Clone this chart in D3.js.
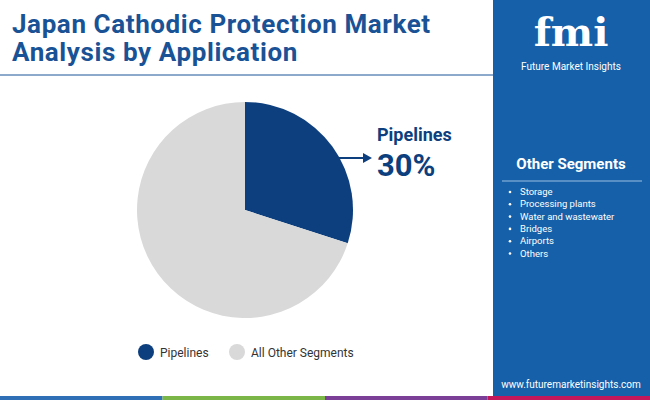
<!DOCTYPE html>
<html><head><meta charset="utf-8">
<script src="https://cdn.jsdelivr.net/npm/d3@7"></script>
<style>body{margin:0}svg{display:block;font-family:Roboto,sans-serif}</style>
</head><body>
<script>
// chart data
var segments = ["Pipelines", "All Other Segments"];
var shares = [30, 70];
var colors = ["#0d3f7e", "#d9d9d9"];
var otherSegments = ["Storage", "Processing plants", "Water and wastewater", "Bridges", "Airports", "Others"];
var footerColors = ["#2f6fb5", "#7ab648", "#7b3f98", "#c2185b"];

var width = 650, height = 400;
var svg = d3.select("body").append("svg").attr("width", width).attr("height", height);
svg.append("rect").attr("width", width).attr("height", height).attr("fill", "#fff");

// title
svg.append("text").attr("x", 12).attr("y", 33).attr("fill", "#1a5296")
  .style("font-size", "26px").style("font-weight", "bold").style("letter-spacing", "0.6px").text("Japan Cathodic Protection Market");
svg.append("text").attr("x", 12).attr("y", 61).attr("fill", "#1a5296")
  .style("font-size", "26px").style("font-weight", "bold").style("letter-spacing", "0.6px").text("Analysis by Application");
svg.append("line").attr("x1", 0).attr("x2", 493).attr("y1", 75).attr("y2", 75)
  .attr("stroke", "#1a5296").attr("stroke-width", 1);

// right panel
var panel = svg.append("g");
panel.append("rect").attr("x", 493).attr("y", 0).attr("width", 157).attr("height", height).attr("fill", "#1560a9");
panel.append("text").attr("x", 571).attr("y", 46).attr("text-anchor", "middle").attr("fill", "#fff")
  .style("font-size", "40px").style("font-weight", "bold").style("font-family", "DejaVu Serif").text("fmi");
panel.append("text").attr("x", 571).attr("y", 70).attr("text-anchor", "middle").attr("fill", "#fff")
  .style("font-size", "10px").text("Future Market Insights");
panel.append("text").attr("x", 571).attr("y", 169).attr("text-anchor", "middle").attr("fill", "#fff")
  .style("font-size", "15px").style("font-weight", "bold").text("Other Segments");
panel.append("line").attr("x1", 502).attr("x2", 642).attr("y1", 181).attr("y2", 181)
  .attr("stroke", "#9cc0e4").attr("stroke-width", 1.2);
panel.selectAll(".seg").data(otherSegments).enter().append("text")
  .attr("x", 520).attr("y", function(d, i) { return 195 + i * 12.3; })
  .attr("fill", "#fff").style("font-size", "9.5px")
  .text(function(d) { return d; });
panel.selectAll(".dot").data(otherSegments).enter().append("circle")
  .attr("cx", 510).attr("cy", function(d, i) { return 192 + i * 12.3; }).attr("r", 1.3).attr("fill", "#fff");
panel.append("text").attr("x", 571).attr("y", 388).attr("text-anchor", "middle").attr("fill", "#fff")
  .style("font-size", "10px").text("www.futuremarketinsights.com");

// pie
var pie = d3.pie().sort(null).value(function(d) { return d; });
var arc = d3.arc().innerRadius(0).outerRadius(108);
var g = svg.append("g").attr("transform", "translate(245,210)");
g.selectAll("path").data(pie(shares)).enter().append("path")
  .attr("d", arc).attr("fill", function(d, i) { return colors[i]; });

// callout
svg.append("line").attr("x1", 338).attr("x2", 366).attr("y1", 158).attr("y2", 158)
  .attr("stroke", "#0d3f7e").attr("stroke-width", 2);
svg.append("path").attr("d", "M372,158 L363,153 L363,163 Z").attr("fill", "#0d3f7e");
svg.append("text").attr("x", 377).attr("y", 141).attr("fill", "#0d3f7e")
  .style("font-size", "18px").style("font-weight", "bold").text(segments[0]);
svg.append("text").attr("x", 377).attr("y", 176).attr("fill", "#0d3f7e")
  .style("font-size", "31px").style("font-weight", "bold").text(shares[0] + "%");

// legend
var legX = [146, 237];
segments.forEach(function(s, i) {
  svg.append("circle").attr("cx", legX[i]).attr("cy", 352).attr("r", 8).attr("fill", colors[i]);
  svg.append("text").attr("x", legX[i] + 14).attr("y", 357).attr("fill", "#333")
    .style("font-size", "12px").text(s);
});

// footer stripe
var fx = d3.scaleBand().domain(d3.range(footerColors.length)).range([0, width]);
svg.selectAll(".foot").data(footerColors).enter().append("rect")
  .attr("x", function(d, i) { return fx(i); }).attr("y", 396)
  .attr("width", fx.bandwidth()).attr("height", 4).attr("fill", function(d) { return d; });
</script>
</body></html>
